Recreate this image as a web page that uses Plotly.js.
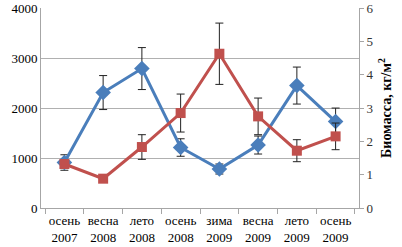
<!DOCTYPE html>
<html>
<head>
<meta charset="utf-8">
<script src="https://cdn.plot.ly/plotly-3.0.1.min.js"></script>
<style>html,body{margin:0;padding:0;background:#fff;}#chart{width:402px;height:247px;}</style>
</head>
<body>
<div id="chart"></div>
<script>
var categories = ["осень<br>2007","весна<br>2008","лето<br>2008","осень<br>2008","зима<br>2009","весна<br>2009","лето<br>2009","осень<br>2009"];
// blue series (left axis)
var blueValues = [910, 2310, 2790, 1210, 780, 1260, 2450, 1730];
var blueErrors = [155, 340, 420, 175, 100, 180, 370, 270];
// red series: biomass, kg/m2 (right axis)
var redValues = [1.32, 0.88, 1.83, 2.85, 4.63, 2.75, 1.72, 2.15];
var redErrors = [0.12, 0.08, 0.37, 0.57, 0.92, 0.55, 0.33, 0.40];
var leftTicks = [0, 1000, 2000, 3000, 4000];
var rightTicks = [0, 1, 2, 3, 4, 5, 6];

var serif = "Times New Roman, Liberation Serif, serif";

var red = {
  x: categories, y: redValues, yaxis: "y2", type: "scatter", mode: "lines+markers",
  line: {color: "#C0504D", width: 3},
  marker: {symbol: "square", size: 10, color: "#C0504D"},
  error_y: {type: "data", array: redErrors, visible: true, color: "#222", thickness: 1, width: 4},
  cliponaxis: false
};
var blue = {
  x: categories, y: blueValues, type: "scatter", mode: "lines+markers",
  line: {color: "#4A7EBB", width: 3},
  marker: {symbol: "diamond", size: 12, color: "#4A7EBB"},
  error_y: {type: "data", array: blueErrors, visible: true, color: "#222", thickness: 1, width: 4},
  cliponaxis: false
};

var layout = {
  width: 402, height: 247,
  margin: {l: 41, r: 43, t: 8, b: 39},
  paper_bgcolor: "#fff", plot_bgcolor: "#fff",
  showlegend: false,
  font: {family: serif, size: 13, color: "#000"},
  xaxis: {
    type: "category", showgrid: false, showline: true, linecolor: "#a6a6a6", linewidth: 1,
    ticks: "outside", tickson: "boundaries", ticklen: 5, tickcolor: "#a6a6a6", tickangle: 0,
    tickfont: {family: serif, size: 13, color: "#000"}, zeroline: false, automargin: false
  },
  yaxis: {
    range: [0, 4002], tickvals: leftTicks, showgrid: true, gridcolor: "#b0b0b0", gridwidth: 1,
    showline: true, linecolor: "#a6a6a6", zeroline: false, ticks: "", ticklen: 0,
    tickfont: {family: serif, size: 13, color: "#000"}, automargin: false
  },
  yaxis2: {
    range: [0, 6.003], tickvals: rightTicks, overlaying: "y", side: "right", showgrid: false,
    showline: true, linecolor: "#a6a6a6", zeroline: false, ticks: "outside", ticklen: 4, tickcolor: "#a6a6a6",
    tickfont: {family: serif, size: 13, color: "#333"}, automargin: false,
    title: {text: "<b>Биомасса, кг/м<sup>2</sup></b>", font: {family: serif, size: 14, color: "#000"}, standoff: 8}
  }
};

Plotly.newPlot("chart", [red, blue], layout, {staticPlot: true, displayModeBar: false});
</script>
</body>
</html>
